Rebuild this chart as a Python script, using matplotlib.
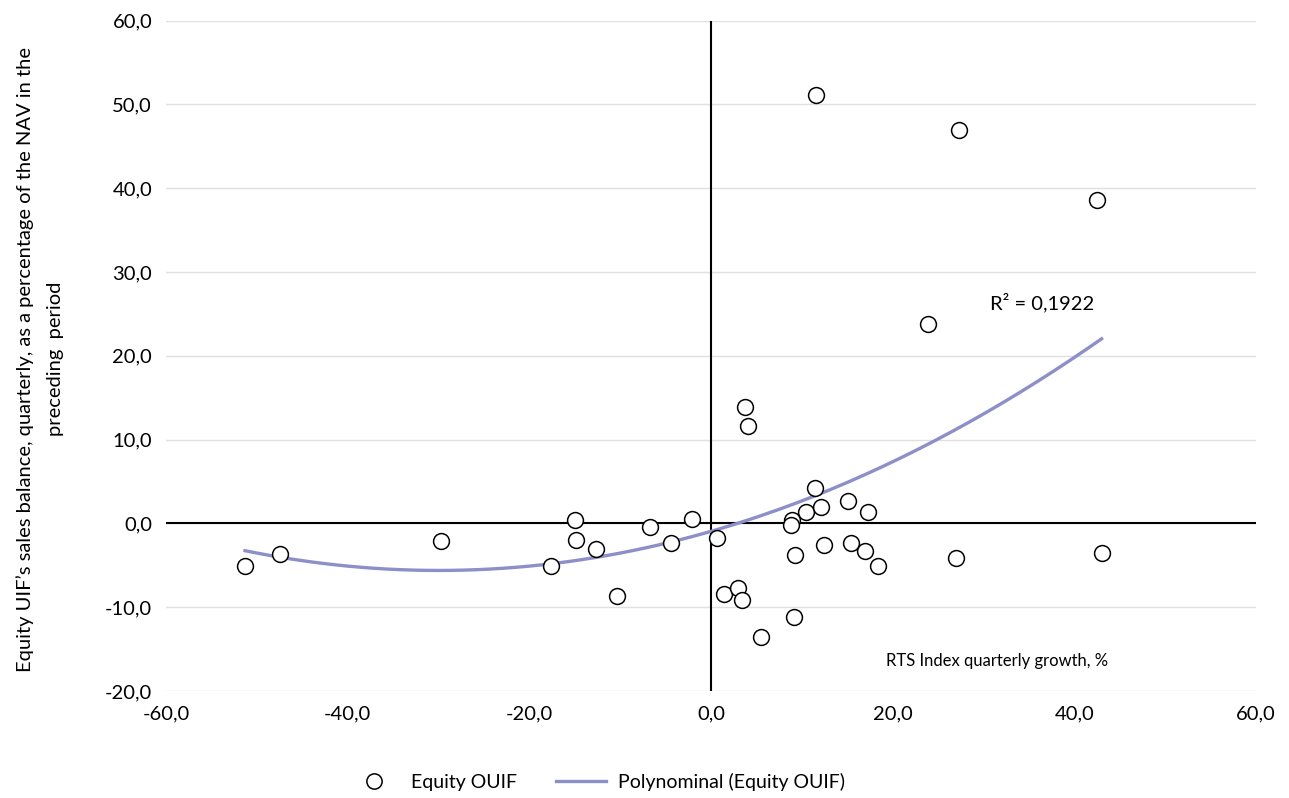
import matplotlib.pyplot as plt
import numpy as np
from matplotlib.ticker import FuncFormatter
from matplotlib.lines import Line2D

plt.rcParams['font.family'] = ['Lato', 'DejaVu Sans']

# RTS index quarterly growth, % (x) and equity UIF sales balance, % of NAV (y)
rts_growth = [-51.3, -47.4, -29.7, -17.6, -15.0, -14.9, -12.7, -10.4, -6.7, -4.4,
              -2.1, 0.7, 1.4, 3.0, 3.4, 3.7, 4.1, 5.5, 9.1, 8.9,
              8.8, 9.2, 10.5, 11.5, 12.1, 12.4, 15.1, 15.4, 16.9, 17.3,
              18.4, 11.6, 27.3, 42.5, 23.9, 27.0, 43.0]
sales_balance = [-5.1, -3.7, -2.1, -5.1, 0.4, -2.0, -3.1, -8.7, -0.4, -2.3,
                 0.5, -1.8, -8.4, -7.7, -9.2, 13.9, 11.6, -13.5, -11.2, 0.4,
                 -0.2, -3.8, 1.3, 4.2, 2.0, -2.6, 2.7, -2.3, -3.3, 1.4,
                 -5.1, 51.1, 46.9, 38.6, 23.8, -4.1, -3.5]

x = np.array(rts_growth)
y = np.array(sales_balance)

# second order polynomial trend, as in the original workbook
coef = np.polyfit(x, y, 2)
xs = np.linspace(x.min(), x.max(), 200)
ys = np.polyval(coef, xs)

fig = plt.figure(figsize=(12.89, 7.98), dpi=100)
ax = fig.add_axes([0.1288, 0.1341, 0.8456, 0.8402])

ax.set_xlim(-60, 60)
ax.set_ylim(-20, 60)
ax.set_xticks(np.arange(-60, 61, 20))
ax.set_yticks(np.arange(-20, 61, 10))
fmt = FuncFormatter(lambda v, p: f'{v:.1f}'.replace('.', ','))
ax.xaxis.set_major_formatter(fmt)
ax.yaxis.set_major_formatter(fmt)
ax.tick_params(length=0, labelsize=14.5, pad=10)

for s in ax.spines.values():
    s.set_visible(False)
ax.grid(axis='y', color='#e0e0e0', linewidth=1)
ax.set_axisbelow(True)
ax.axhline(0, color='black', linewidth=1.5, zorder=1)
ax.axvline(0, color='black', linewidth=1.5, zorder=1)

ax.plot(xs, ys, color='#8C8FC8', linewidth=2.4, zorder=2)
ax.scatter(x, y, s=130, facecolor='white', edgecolor='black', linewidth=1.1, zorder=3)

ax.text(36.5, 25.5, 'R² = 0,1922', fontsize=14.5, ha='center')
ax.text(31.5, -17, 'RTS Index quarterly growth, %', fontsize=12, ha='center')

fig.text(0.031, 0.55, "Equity UIF\u2019s sales balance, quarterly, as a percentage of the NAV in the\npreceding  period",
         rotation=90, ha='center', va='center', fontsize=14.5, linespacing=1.9)

handles = [Line2D([], [], marker='o', linestyle='none', markersize=11,
                  markerfacecolor='white', markeredgecolor='black', markeredgewidth=1.1),
           Line2D([], [], color='#8C8FC8', linewidth=2.4)]
fig.legend(handles, ['Equity OUIF', 'Polynominal (Equity OUIF)'], loc='center',
           bbox_to_anchor=(0.463, 0.02), ncol=2, frameon=False, fontsize=14,
           columnspacing=2.0, handlelength=2.6, handletextpad=0.6)

fig.savefig('out.png', dpi=100)
